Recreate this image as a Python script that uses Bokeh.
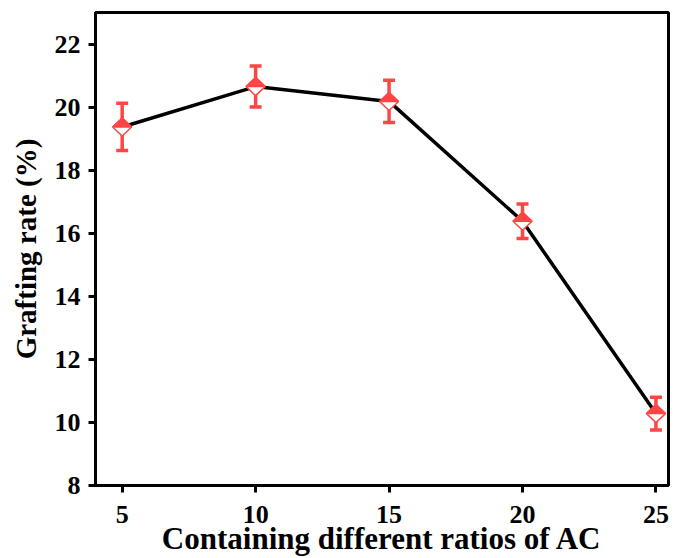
from bokeh.plotting import figure
from bokeh.models import Range1d, FixedTicker, ColumnDataSource
from bokeh.embed import file_html
from bokeh.resources import INLINE

# data
ratios = [5, 10, 15, 20, 25]
rate = [19.37, 20.65, 20.18, 16.38, 10.28]
err = [0.75, 0.65, 0.67, 0.55, 0.52]
x_ticks = [5, 10, 15, 20, 25]
y_ticks = [8, 10, 12, 14, 16, 18, 20, 22]

RED = "#FF4545"
FONT = "Liberation Serif"

W, H = 677, 558
L, R, T, B = 95, 9, 12, 73
x0, x1 = 4.0, 25.47
y0, y1 = 8.0, 23.0

p = figure(width=W, height=H, output_backend="svg", toolbar_location=None,
           x_range=Range1d(x0, x1), y_range=Range1d(y0, y1),
           min_border_left=L, min_border_right=R, min_border_top=T, min_border_bottom=B)
p.grid.visible = False
p.background_fill_color = "white"
p.border_fill_color = "white"
p.outline_line_color = "black"
p.outline_line_width = 3

# pixel -> data unit conversions for marker geometry
fw = W - L - R
fh = H - T - B
ux = (x1 - x0) / fw
uy = (y1 - y0) / fh
hw = 9.5 * ux
hh = 9.0 * uy

src = ColumnDataSource(dict(
    x=ratios, y=rate,
    lo=[v - e for v, e in zip(rate, err)],
    hi=[v + e for v, e in zip(rate, err)],
))

# error bars
p.segment(x0="x", y0="lo", x1="x", y1="hi", source=src, line_color=RED, line_width=3.5)
p.scatter(x="x", y="lo", source=src, marker="dash", size=12, line_color=RED, line_width=3.5)
p.scatter(x="x", y="hi", source=src, marker="dash", size=12, line_color=RED, line_width=3.5)

# line
p.line(ratios, rate, line_color="black", line_width=3.5)

# half-filled diamonds
dx = [[x - hw, x, x + hw, x] for x in ratios]
dy = [[y, y + hh, y, y - hh] for y in rate]
p.patches(dx, dy, fill_color="white", line_color=RED, line_width=1.5)
tx = [[x - hw, x, x + hw] for x in ratios]
ty = [[y, y + hh, y] for y in rate]
p.patches(tx, ty, fill_color=RED, line_color=RED, line_width=1.5)

for ax in (p.xaxis[0], p.yaxis[0]):
    ax.axis_line_width = 3
    ax.major_tick_line_width = 3
    ax.major_tick_out = 7
    ax.major_tick_in = 0
    ax.minor_tick_out = 0
    ax.minor_tick_in = 0
    ax.major_label_text_font = FONT
    ax.major_label_text_font_style = "bold"
    ax.major_label_text_font_size = "26px"
    ax.major_label_text_color = "black"
    ax.axis_label_text_font = FONT
    ax.axis_label_text_font_style = "bold"
    ax.axis_label_text_color = "black"

p.xaxis[0].ticker = FixedTicker(ticks=x_ticks)
p.yaxis[0].ticker = FixedTicker(ticks=y_ticks)
p.xaxis[0].axis_label = "Containing different ratios of AC"
p.yaxis[0].axis_label = "Grafting rate (%)"
p.xaxis[0].axis_label_text_font_size = "31px"
p.yaxis[0].axis_label_text_font_size = "29px"
p.xaxis[0].major_label_standoff = 13
p.xaxis[0].axis_label_standoff = -5
p.yaxis[0].major_label_standoff = 8
p.yaxis[0].axis_label_standoff = 10

open("out.html", "w").write(file_html(p, INLINE))
